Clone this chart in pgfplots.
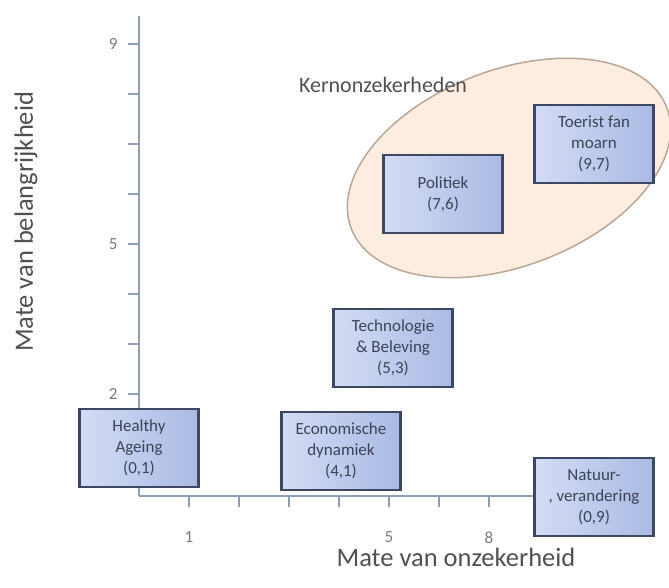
\documentclass[border=0pt]{standalone}
\usepackage{fontspec}
\setmainfont{Carlito}
\usepackage{pgfplots}
\pgfplotsset{compat=1.18}
\usetikzlibrary{shapes.geometric}

\definecolor{axisblue}{HTML}{8E9FB8}
\definecolor{tickgray}{HTML}{7A7A7A}
\definecolor{labelgray}{HTML}{505050}
\definecolor{boxline}{HTML}{3C4864}
\definecolor{boxlight}{HTML}{D4DCF4}
\definecolor{boxdark}{HTML}{AABAE4}
\definecolor{boxtext}{HTML}{3A4458}
\definecolor{peach}{HTML}{FDEDE1}
\definecolor{peachline}{HTML}{B9A797}

\tikzset{
  kbox/.style={anchor=center, draw=boxline, line width=2.2pt,
    left color=boxlight, right color=boxdark,
    minimum width=119pt, minimum height=78pt, inner sep=2pt,
    align=center, text=boxtext,
    font=\fontsize{17}{21}\selectfont},
}

\begin{document}
\begin{tikzpicture}
\path[use as bounding box] (-139pt,-92pt) rectangle (530pt,496pt);
\begin{axis}[
    x=50pt, y=50pt,
    xmin=0, xmax=8,
    ymin=-0.04, ymax=9.56,
    axis lines=left,
    axis line style={draw=axisblue, line width=2.5pt, -},
    clip=false,
    tick align=outside,
    major tick length=11pt,
    tick style={draw=axisblue, line width=1.5pt},
    xtick={1,...,7},
    xticklabels={1,,,,5,,8},
    ytick={1,...,9},
    yticklabels={,2,,,5,,,,9},
    /pgf/number format/assume math mode=true,
    ticklabel style={font=\fontsize{17}{19}\selectfont, text=tickgray},
    xticklabel style={yshift=-21pt},
    yticklabel style={xshift=-7pt},
    xlabel={Mate van onzekerheid},
    ylabel={Mate van belangrijkheid},
    label style={font=\fontsize{26.5}{30}\selectfont, text=labelgray},
    xlabel style={at={(axis description cs:0.7925,0)}, anchor=base, yshift=-71pt},
    ylabel style={at={(axis description cs:0,0.571)}, anchor=center, yshift=113pt},
]

% kernonzekerheden
\addplot[only marks, mark=none,
    nodes near coords={},
    nodes near coords style={anchor=center, ellipse, draw=peachline, line width=1.5pt,
      fill=peach, minimum width=338pt, minimum height=196pt, rotate=21}]
    coordinates {(7.4,6.52)};
\addplot[only marks, mark=none,
    nodes near coords={Kernonzekerheden},
    nodes near coords style={anchor=center, text=labelgray,
      font=\fontsize{22}{25}\selectfont}]
    coordinates {(4.88,8.18)};

\addplot[only marks, mark=none, nodes near coords={Healthy\\Ageing\\(0,1)},
    nodes near coords style={kbox}] coordinates {(0,0.92)};
\addplot[only marks, mark=none, nodes near coords={Economische\\dynamiek\\(4,1)},
    nodes near coords style={kbox}] coordinates {(4.04,0.86)};
\addplot[only marks, mark=none, nodes near coords={Natuur-\\, verandering\\(0,9)},
    nodes near coords style={kbox}] coordinates {(9.1,-0.06)};
\addplot[only marks, mark=none, nodes near coords={Technologie\\\& Beleving\\(5,3)},
    nodes near coords style={kbox}] coordinates {(5.08,2.92)};
\addplot[only marks, mark=none, nodes near coords={Politiek\\(7,6)},
    nodes near coords style={kbox}] coordinates {(6.08,6.0)};
\addplot[only marks, mark=none, nodes near coords={Toerist fan\\moarn\\(9,7)},
    nodes near coords style={kbox}] coordinates {(9.1,7.0)};

\end{axis}
\end{tikzpicture}
\end{document}
